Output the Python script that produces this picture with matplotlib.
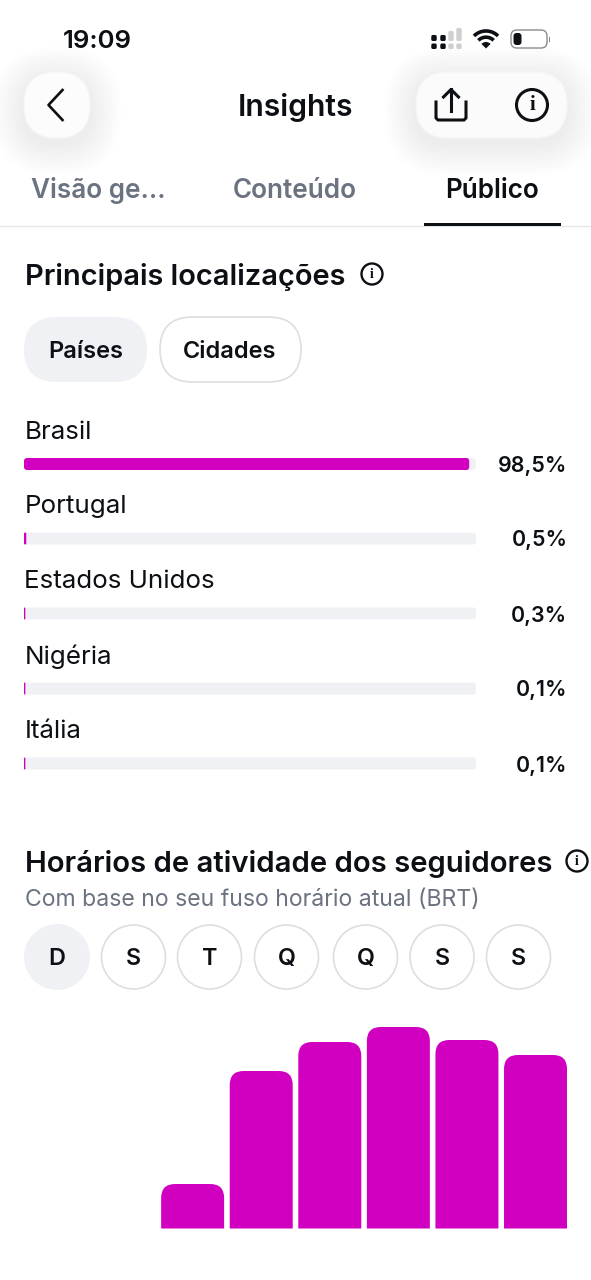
from __future__ import annotations

import matplotlib

matplotlib.use("Agg")

import matplotlib.pyplot as plt
import numpy as np
from matplotlib.patches import Circle, FancyBboxPatch, PathPatch, Rectangle, Wedge
from matplotlib.path import Path

plt.rcParams["font.family"] = ["Inter", "DejaVu Sans"]

W, H = 591, 1280
MAGENTA = "#d100c0"
TRACK = "#f0f1f5"
INK = "#0c1014"
GREY = "#6b7280"
LINE = "#e4e6ea"

countries = ["Brasil", "Portugal", "Estados Unidos", "Nigéria", "Itália"]
country_share = [98.5, 0.5, 0.3, 0.1, 0.1]
country_labels = ["98,5%", "0,5%", "0,3%", "0,1%", "0,1%"]

tabs = ["Visão ge...", "Conteúdo", "Público"]
weekdays = ["D", "S", "T", "Q", "Q", "S", "S"]

# hourly activity (px tall), first two slots are empty
activity_slots = [0, 1, 2, 3, 4, 5, 6, 7]
activity_values = [0, 0, 44.5, 157.5, 186.5, 201.5, 188.5, 173.5]


def px_axes(fig, left, top, right, bottom):
    return fig.add_axes([left / W, 1 - bottom / H, (right - left) / W, (bottom - top) / H])


def pill(ax, x0, y0, x1, y1, r=None, **kw):
    r = (y1 - y0) / 2 if r is None else r
    patch = FancyBboxPatch(
        (x0 + r, y0 + r), x1 - x0 - 2 * r, y1 - y0 - 2 * r,
        boxstyle=f"round,pad={r},rounding_size={r}", **kw,
    )
    ax.add_patch(patch)
    return patch


def soft_shadow(ax, x0, y0, x1, y1, spread=32, drop=6):
    for grow in np.linspace(spread, 2, 18):
        pill(ax, x0 - grow, y0 - grow + drop, x1 + grow, y1 + grow + drop,
             fc="black", ec="none", alpha=0.0026, zorder=1)


def rounded_bar(ax, bar, rx, ry):
    # swap a square bar for one with rounded top corners, keeps the bar's geometry
    x0, y0 = bar.get_x(), bar.get_y()
    x1, y1 = x0 + bar.get_width(), y0 + bar.get_height()
    verts = [
        (x0, y0), (x0, y1 - ry), (x0, y1), (x0 + rx, y1), (x1 - rx, y1),
        (x1, y1), (x1, y1 - ry), (x1, y0), (x0, y0),
    ]
    codes = [
        Path.MOVETO, Path.LINETO, Path.CURVE3, Path.CURVE3, Path.LINETO,
        Path.CURVE3, Path.CURVE3, Path.LINETO, Path.CLOSEPOLY,
    ]
    ax.add_patch(PathPatch(Path(verts, codes), fc=bar.get_facecolor(), ec="none"))
    bar.set_visible(False)


def info_icon(ax, cx, cy, r, lw):
    ax.add_patch(Circle((cx, cy), r, fc="none", ec=INK, lw=lw, zorder=5))
    ax.text(cx, cy + 0.5, "i", ha="center", va="center", fontsize=r * 0.95,
            fontweight="bold", family=["Liberation Serif", "DejaVu Serif"], color=INK, zorder=5)


fig = plt.figure(figsize=(W / 100, H / 100), dpi=100, facecolor="white")

ui = fig.add_axes([0, 0, 1, 1])
ui.set_xlim(0, W)
ui.set_ylim(H, 0)
ui.axis("off")


def label(x, y, s, size, color=INK, weight="normal", ha="left"):
    ui.text(x, y + 2, s, fontsize=size, color=color, fontweight=weight, ha=ha, va="center", zorder=6)


# status bar
label(97, 40, "19:09", 18.6, weight="semibold", ha="center")
for cx, col, top in zip([434, 443, 451, 459], [INK, INK, "#cfcfcf", "#cfcfcf"], [35, 35, 31, 28]):
    pill(ui, cx - 2.7, 43.5, cx + 2.7, 49, r=1.5, fc=col, ec="none", zorder=5)
    pill(ui, cx - 2.7, top, cx + 2.7, 41, r=1.5, fc=col, ec="none", zorder=5)
# wifi
for r in [17, 10.8]:
    theta = np.radians(np.linspace(-45, 45, 30))
    ui.plot(486 + r * np.sin(theta), 48 - r * np.cos(theta), color=INK, lw=2.6,
            solid_capstyle="butt", zorder=5)
ui.add_patch(Wedge((486, 48.5), 6.5, 225, 315, fc=INK, ec="none", zorder=5))
# battery
pill(ui, 511, 30, 547, 48, r=6, fc="white", ec="#8b8b8b", lw=1.0, zorder=5)
pill(ui, 513.5, 33, 521.5, 45, r=3, fc=INK, ec="none", zorder=6)
ui.add_patch(Rectangle((548.5, 36.5), 1.6, 5, fc="#8b8b8b", ec="none", zorder=5))

# nav buttons
soft_shadow(ui, 24, 72, 90, 138)
soft_shadow(ui, 416, 72, 567, 138)
pill(ui, 24, 72, 90, 138, fc="#fcfcfc", ec="#f6f6f6", lw=1.0, zorder=3)
pill(ui, 416, 72, 567, 138, fc="#fbfbfb", ec="#f6f6f6", lw=1.0, zorder=3)
ui.plot([62.5, 48.5, 62.5], [90, 105, 120], color=INK, lw=1.9, zorder=5)
label(295, 105, "Insights", 21.7, weight="semibold", ha="center")
# share icon
ui.plot([451, 451], [89, 111], color=INK, lw=2.2, zorder=5)
ui.plot([443.5, 451, 458.5], [97, 89.5, 97], color=INK, lw=2.2, zorder=5)
ui.plot([436, 436, 438, 464, 466, 466], [102, 118, 120, 120, 118, 102], color=INK, lw=2.2, zorder=5)
info_icon(ui, 532, 105, 15.5, 2.2)

# tabs
for x, s, col in zip([98, 295, 492], tabs, [GREY, GREY, INK]):
    label(x, 189, s, 18.8, color=col, weight="semibold", ha="center")
ui.plot([0, W], [225.5, 225.5], color=LINE, lw=1.0, zorder=4)
ui.add_patch(Rectangle((424, 222.5), 137, 3, fc=INK, ec="none", zorder=5))

# locations header and toggles
label(25, 275, "Principais localizações", 20.9, weight="semibold")
info_icon(ui, 372, 274, 10.5, 1.7)
pill(ui, 24, 317, 147, 382, fc=TRACK, ec="none")
pill(ui, 160, 317, 301, 382, fc="white", ec="#dedede", lw=1.2)
label(85.5, 350, "Países", 17, weight="semibold", ha="center")
label(230, 350, "Cidades", 17, weight="semibold", ha="center")

# locations bars, y in screen px so each row sits where the picture has it
track_axes = px_axes(fig, 24, 400, 476, 790)
track_axes.set_xlim(0, 100)
track_axes.set_ylim(390, 0)
track_axes.axis("off")
track_axes.patch.set_alpha(0)
row_y = [64, 138.5, 213.5, 288.5, 363.5]
px_x = 100 / 452
for y, name, share, txt in zip(row_y, countries, country_share, country_labels):
    for value, col, z in [(100, TRACK, 2), (share, MAGENTA, 3)]:
        bar_w = max(value, 0.3)
        r = min(3 * px_x, bar_w / 2)
        track_axes.add_patch(FancyBboxPatch(
            (0, y - 6), bar_w, 12, mutation_aspect=1 / px_x,
            boxstyle=f"round,pad=0,rounding_size={r}", fc=col, ec="none", zorder=z,
        ))
    label(24.5, 400 + y - 33.5, name, 18.7)
    label(567.5, 400 + y, txt, 15.4, weight="semibold", ha="right")

# activity header and day chips
label(25, 862, "Horários de atividade dos seguidores", 21.1, weight="semibold")
info_icon(ui, 577, 861, 10.5, 1.7)
label(25, 898, "Com base no seu fuso horário atual (BRT)", 16.6, color=GREY)
for i, (cx, s) in enumerate(zip([57, 133.5, 209.5, 286.5, 365.5, 442, 518.5], weekdays)):
    if i == 0:
        ui.add_patch(Circle((cx, 957), 33, fc=TRACK, ec="none"))
    else:
        ui.add_patch(Circle((cx, 957), 32, fc="white", ec="#dedede", lw=1.2))
    label(cx, 957, s, 16.8, weight="semibold", ha="center")

# activity bars
chart = px_axes(fig, 24, 1000, 567, 1228.5)
slot_w = 68.6
bar_w = 63 / slot_w
chart.set_xlim(-bar_w / 2, 7 + bar_w / 2)
chart.set_ylim(0, 228.5)
chart.axis("off")
chart.patch.set_alpha(0)
bars = chart.bar(activity_slots, activity_values, width=bar_w, color=MAGENTA)
for bar, val in zip(bars, activity_values):
    if val > 0:
        rounded_bar(chart, bar, 14 / slot_w, 14)
    else:
        bar.set_visible(False)

fig.savefig("out.png", dpi=100, facecolor="white")
